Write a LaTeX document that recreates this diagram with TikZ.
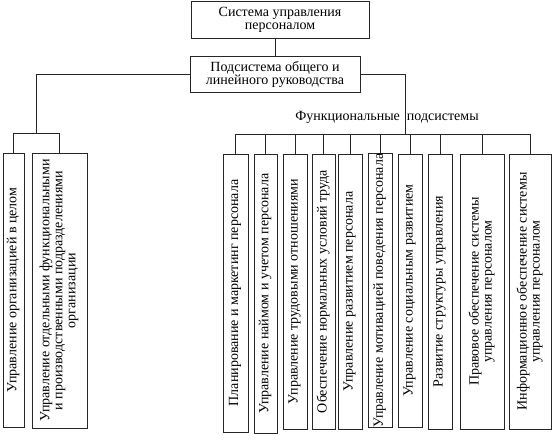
\documentclass[tikz,border=0pt]{standalone}
\usepackage{fontspec}
\setmainfont{Liberation Serif}
\usepackage{graphicx}

\newcommand{\vtext}[1]{\rotatebox{90}{\begin{tabular}{@{}c@{}}#1\end{tabular}}}

\tikzset{
  box/.style={draw=black!85,line width=0.8pt,inner sep=0pt,align=center,
    font=\fontsize{14}{13}\selectfont},
  link/.style={draw=black!85,line width=0.8pt}
}

\begin{document}
\begin{tikzpicture}[x=1pt,y=-1pt]

\useasboundingbox (0,0) rectangle (554,439);

% top of the hierarchy
\node[box,minimum width=178,minimum height=37] (sys) at (280,19.5) {Система управления\\персоналом};
\node[box,minimum width=170,minimum height=36] (sub) at (275,74) {Подсистема общего и\\линейного руководства};

% left branch
\node[box,minimum width=21,minimum height=274] (a1) at (13.5,290) {\vtext{Управление организацией в целом}};
\node[box,minimum width=55,minimum height=275] (a2) at (59.5,290.5) {\vtext{Управление отдельными функциональными\\и производственными подразделениями\\организации}};

% functional subsystems
\node[font=\fontsize{14}{13}\selectfont] (func) at (387,117) {Функциональные\ \ подсистемы};

\node[box,minimum width=25,minimum height=278] (f1) at (235.5,293) {\vtext{Планирование и маркетинг персонала}};
\node[box,minimum width=23,minimum height=279] (f2) at (265.5,293.5) {\vtext{Управление наймом и учетом персонала}};
\node[box,minimum width=24,minimum height=275] (f3) at (295,291.5) {\vtext{Управление трудовыми отношениями}};
\node[box,minimum width=23,minimum height=275] (f4) at (323.5,291.5) {\vtext{Обеспечение нормальных условий труда}};
\node[box,minimum width=24,minimum height=275] (f5) at (350,291.5) {\vtext{Управление развитием персонала}};
\node[box,minimum width=24,minimum height=273] (f6) at (380,290.5) {\vtext{Управление мотивацией поведения персонала}};
\node[box,minimum width=24,minimum height=273] (f7) at (410,290.5) {\vtext{Управление социальным развитием}};
\node[box,minimum width=24,minimum height=275] (f8) at (440,291.5) {\vtext{Развитие структуры управления}};
\node[box,minimum width=44,minimum height=275] (f9) at (482,291.5) {\vtext{Правовое обеспечение системы\\управления персоналом}};
\node[box,minimum width=42,minimum height=275] (f10) at (530,291.5) {\vtext{Информационное обеспечение системы\\управления персоналом}};

% junctions
\coordinate (lj) at (36,133);
\coordinate (rj) at (405,134);

% connectors
\draw[link] (sub.north) -- (sub.north |- sys.south);
\draw[link] (sub.west) -| (lj);
\draw[link] (sub.east) -| (rj);
\draw[link] (a1.north) |- (lj);
\draw[link] (a2.north) |- (lj);
\draw[link] (f1.north) |- (rj);
\draw[link] (f2.north) |- (rj);
\draw[link] (f3.north) |- (rj);
\draw[link] (f4.north) |- (rj);
\draw[link] (f5.north) |- (rj);
\draw[link] (f6.north) |- (rj);
\draw[link] (f7.north) |- (rj);
\draw[link] (f8.north) |- (rj);
\draw[link] (f9.north) |- (rj);
\draw[link] (f10.north) |- (rj);

\end{tikzpicture}
\end{document}
